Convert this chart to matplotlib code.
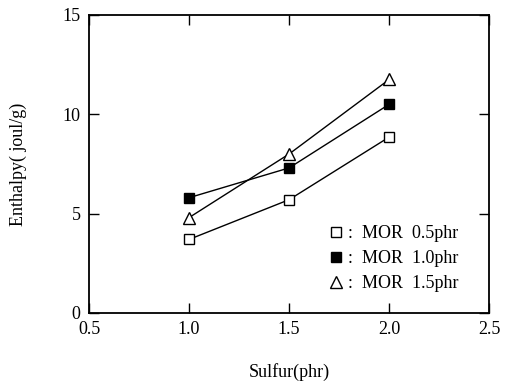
import matplotlib
matplotlib.use("Agg")
import matplotlib.pyplot as plt

# 데이터
sulfur = [1.0, 1.5, 2.0]
mor_05 = [3.7, 5.7, 8.85]
mor_10 = [5.8, 7.3, 10.5]
mor_15 = [4.8, 8.0, 11.75]
labels = [":  MOR  0.5phr", ":  MOR  1.0phr", ":  MOR  1.5phr"]

xticks = [0.5, 1.0, 1.5, 2.0, 2.5]
yticks = [0, 5, 10, 15]

plt.rcParams["font.family"] = ["Liberation Serif", "DejaVu Serif"]
plt.rcParams["font.size"] = 13

fig = plt.figure(figsize=(5.09, 3.83), dpi=100)
ax = fig.add_axes([0.175, 0.183, 0.786, 0.778])

ax.plot(sulfur, mor_05, "-", color="black", lw=1.0, marker="s", ms=7.5,
        mfc="white", mec="black", mew=1.0, label=labels[0])
ax.plot(sulfur, mor_10, "-", color="black", lw=1.0, marker="s", ms=7.5,
        mfc="black", mec="black", label=labels[1])
ax.plot(sulfur, mor_15, "-", color="black", lw=1.0, marker="^", ms=8.5,
        mfc="white", mec="black", mew=1.0, label=labels[2])

ax.set_xlim(0.5, 2.5)
ax.set_ylim(0, 15)
ax.set_xticks(xticks)
ax.set_xticklabels([f"{v:.1f}" for v in xticks])
ax.set_yticks(yticks)
ax.tick_params(direction="in", length=7, width=1.0, top=True, right=True,
               labelsize=13, pad=6)
for s in ax.spines.values():
    s.set_linewidth(1.3)

ax.set_xlabel("Sulfur(phr)", fontsize=13, labelpad=18)
ax.set_ylabel("Enthalpy( joul/g)", fontsize=13, labelpad=26)

leg = ax.legend(loc="lower right", bbox_to_anchor=(0.965, 0.015), frameon=False,
                handlelength=0.8, handletextpad=0.3, labelspacing=0.45,
                fontsize=13)
for h in leg.legend_handles:
    h.set_linestyle("None")

fig.savefig("out.png", dpi=100)
